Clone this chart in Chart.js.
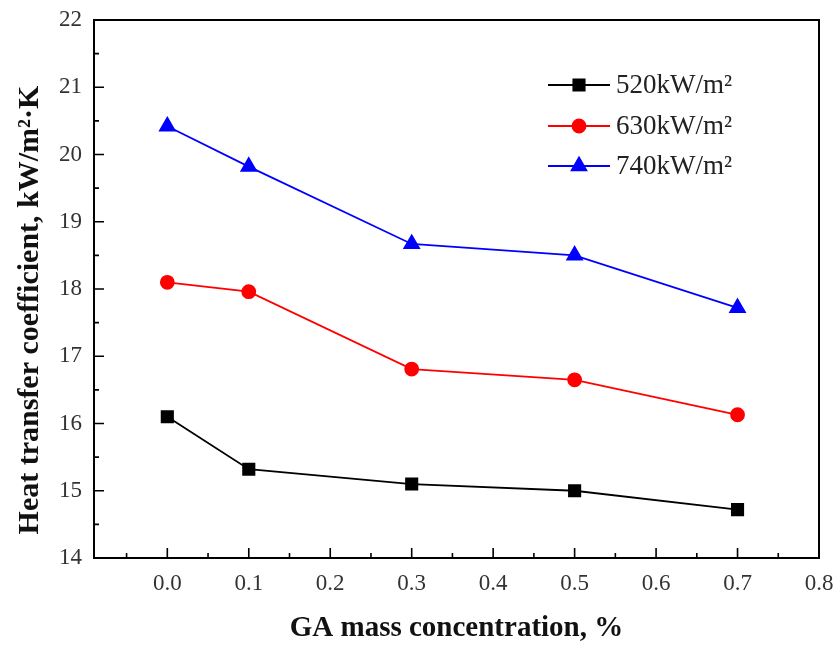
<!DOCTYPE html>
<html>
<head>
<meta charset="utf-8">
<script src="https://cdn.jsdelivr.net/npm/chart.js@4"></script>
<style>
html,body{margin:0;padding:0;background:#fff;}
#wrap{width:840px;height:651px;}
</style>
</head>
<body>
<div id="wrap"><canvas id="c" width="840" height="651"></canvas></div>
<script>
const concentrations = [0.0, 0.1, 0.3, 0.5, 0.7];
const series520 = [16.10, 15.32, 15.10, 15.00, 14.72];
const series630 = [18.10, 17.96, 16.81, 16.65, 16.13];
const series740 = [20.42, 19.82, 18.67, 18.50, 17.72];
const seriesNames = ['520kW/m²', '630kW/m²', '740kW/m²'];
const xTickValues = [0.0, 0.1, 0.2, 0.3, 0.4, 0.5, 0.6, 0.7, 0.8];
const yTickValues = [14, 15, 16, 17, 18, 19, 20, 21, 22];
const yAxisTitle = 'Heat transfer coefficient, kW/m²·K';
const xAxisTitle = 'GA mass concentration, %';

const SERIF = '"Liberation Serif", "Times New Roman", serif';

function pts(ys){ return concentrations.map((x,i)=>({x:x,y:ys[i]})); }

const boxPlugin = {
  id: 'boxTicks',
  afterDatasetsDraw(chart){
    const ctx = chart.ctx, a = chart.chartArea;
    const xs = chart.scales.x, ys = chart.scales.y;
    ctx.save();
    ctx.strokeStyle = '#000';
    ctx.lineWidth = 1.6;
    ctx.beginPath();
    const xv = [];
    for (let v = -0.05; v <= 0.8001; v += 0.05) xv.push(Math.round(v*100)/100);
    xv.forEach(v=>{
      const px = xs.getPixelForValue(v);
      if (px < a.left+1 || px > a.right-1) return;
      const major = Math.abs(Math.round(v*10) - v*10) < 1e-6;
      const len = major ? 10 : 5;
      ctx.moveTo(px, a.bottom); ctx.lineTo(px, a.bottom - len);
    });
    for (let v = 14; v <= 22.001; v += 0.5) {
      const py = ys.getPixelForValue(v);
      if (py < a.top+1 || py > a.bottom-1) continue;
      const major = Math.abs(v - Math.round(v)) < 1e-6;
      const len = major ? 10 : 5;
      ctx.moveTo(a.left, py); ctx.lineTo(a.left + len, py);
    }
    ctx.stroke();
    ctx.lineWidth = 2;
    ctx.strokeRect(a.left, a.top, a.right - a.left, a.bottom - a.top);
    ctx.restore();
  },
  afterDraw(chart){
    const ctx = chart.ctx;
    ctx.save();
    const x0 = 548, x1 = 610, tx = 616;
    const rows = [85, 126, 166];
    chart.data.datasets.forEach((ds, i)=>{
      const y = rows[i];
      ctx.strokeStyle = ds.borderColor;
      ctx.lineWidth = ds.borderWidth;
      ctx.beginPath(); ctx.moveTo(x0, y); ctx.lineTo(x1, y); ctx.stroke();
      ctx.fillStyle = ds.pointBackgroundColor;
      ctx.strokeStyle = ds.pointBorderColor;
      Chart.helpers.drawPoint(ctx, {pointStyle: ds.pointStyle, radius: ds.pointRadius, rotation: 0, borderWidth: 1}, (x0+x1)/2, y);
      ctx.fillStyle = '#222';
      ctx.font = '27px ' + SERIF;
      ctx.textBaseline = 'middle';
      ctx.textAlign = 'left';
      ctx.fillText(ds.label, tx, y + 1);
    });
    // y axis title
    ctx.translate(30, 310);
    ctx.rotate(-Math.PI/2);
    ctx.fillStyle = '#111';
    ctx.font = 'bold 30px ' + SERIF;
    ctx.textAlign = 'center';
    ctx.textBaseline = 'middle';
    ctx.fillText(yAxisTitle, 0, 0);
    ctx.restore();
  }
};

new Chart(document.getElementById('c'), {
  type: 'line',
  data: {
    datasets: [
      {label: seriesNames[0], data: pts(series520), borderColor:'#000', backgroundColor:'#000',
       pointBackgroundColor:'#000', pointBorderColor:'#000', pointStyle:'rect', pointRadius:8, borderWidth:1.8},
      {label: seriesNames[1], data: pts(series630), borderColor:'#ff0000', backgroundColor:'#ff0000',
       pointBackgroundColor:'#ff0000', pointBorderColor:'#ff0000', pointStyle:'circle', pointRadius:6.5, borderWidth:1.8},
      {label: seriesNames[2], data: pts(series740), borderColor:'#0000ff', backgroundColor:'#0000ff',
       pointBackgroundColor:'#0000ff', pointBorderColor:'#0000ff', pointStyle:'triangle', pointRadius:8.5, borderWidth:1.8}
    ]
  },
  options: {
    responsive: false,
    animation: false,
    events: [],
    layout: {padding: {left: 0, top: 20, right: 21, bottom: 0}},
    plugins: {legend: {display: false}, tooltip: {enabled: false}},
    elements: {line: {tension: 0}, point: {borderWidth: 1}},
    scales: {
      x: {
        type: 'linear', min: -0.09, max: 0.8,
        afterBuildTicks(s){ s.ticks = xTickValues.map(v=>({value:v})); },
        afterFit(s){ s.height = 93; s.paddingLeft = 0; s.paddingRight = 0; },
        grid: {display: false, drawTicks: false},
        border: {display: false},
        ticks: {padding: 12, color: '#333', font: {family: SERIF, size: 23},
                callback: v => Number(v).toFixed(1), maxRotation: 0, autoSkip: false},
        title: {display: true, text: xAxisTitle, color: '#111',
                font: {family: SERIF, size: 29, weight: 'bold'}, padding: {top: 0, bottom: 5}}
      },
      y: {
        type: 'linear', min: 14, max: 22,
        afterBuildTicks(s){ s.ticks = yTickValues.map(v=>({value:v})); },
        afterFit(s){ s.width = 94; s.paddingTop = 0; s.paddingBottom = 0; },
        grid: {display: false, drawTicks: false},
        border: {display: false},
        ticks: {padding: 12, color: '#333', font: {family: SERIF, size: 23}, autoSkip: false},
        title: {display: false}
      }
    }
  },
  plugins: [boxPlugin]
});
</script>
</body>
</html>
